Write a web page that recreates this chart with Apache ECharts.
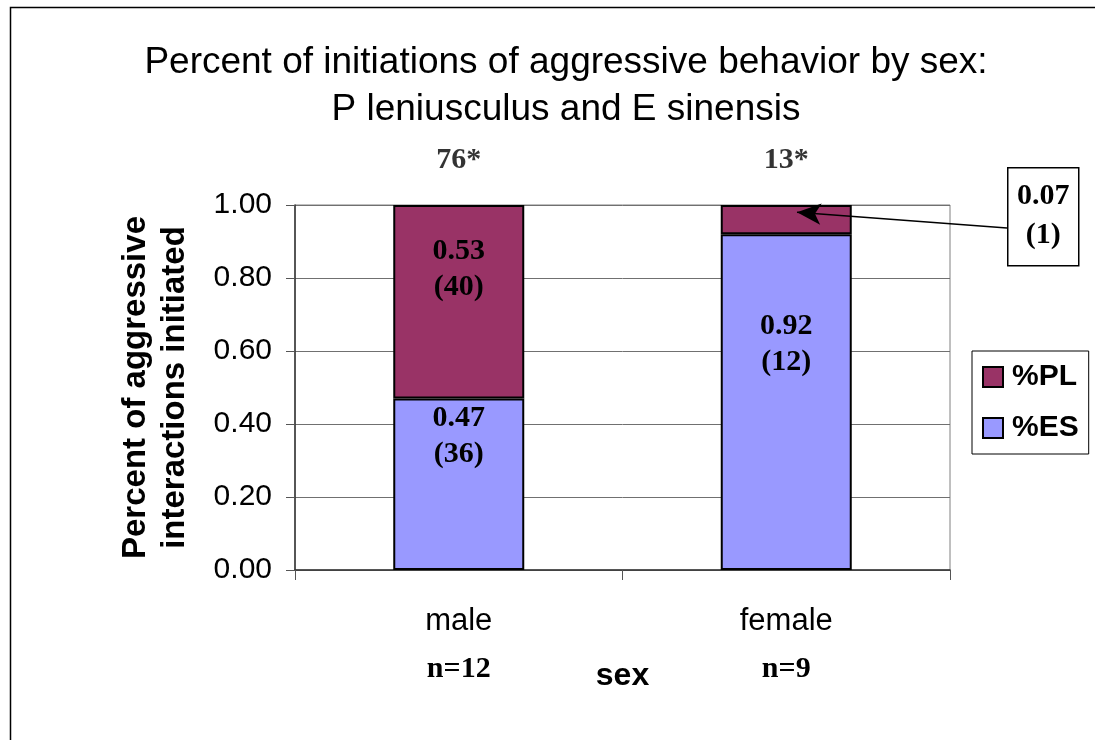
<!DOCTYPE html>
<html>
<head>
<meta charset="utf-8">
<script src="https://cdn.jsdelivr.net/npm/echarts@6/dist/echarts.min.js"></script>
<style>
  html, body { margin: 0; padding: 0; background: #fff; }
  #main { width: 1095px; height: 740px; }
</style>
</head>
<body>
<div id="main"></div>
<script>
// data
const categories = ["male", "female"];
const sampleSizes = ["n=12", "n=9"];
const esValues = [0.47, 0.92];
const plValues = [0.53, 0.08];
const esLabels = ["0.47\n(36)", "0.92\n(12)"];
const plLabels = ["0.53\n(40)", ""];
const totals = ["76*", "13*"];
const calloutText = "0.07\n(1)";

const sans = "Liberation Sans, Arial, sans-serif";
const serif = "Liberation Serif, Times New Roman, serif";

// per-bar label nudges (the original placed text boxes by hand)
const esOffsets = [[0, -48], [0, -58]];
const plOffsets = [[0, -32], [0, 0]];

let myChart = echarts.init(document.getElementById("main"), null, { renderer: "canvas" });

const labelStyle = {
  show: true,
  color: "#000",
  fontFamily: serif,
  fontWeight: "bold",
  fontSize: 30,
  lineHeight: 36,
};

let option = {
  animation: false,
  backgroundColor: "#fff",
  title: {
    text: "Percent of initiations of aggressive behavior by sex:\nP leniusculus and E sinensis",
    left: 561,
    textAlign: "center",
    top: 34,
    textStyle: {
      fontFamily: sans,
      fontWeight: "normal",
      fontSize: 37,
      lineHeight: 47,
      color: "#000",
    },
  },
  legend: {
    data: ["%PL", "%ES"],
    orient: "vertical",
    left: 972,
    top: 351,
    padding: [11, 10, 11, 10],
    itemGap: 21,
    itemWidth: 20,
    itemHeight: 20,
    borderColor: "#000",
    borderWidth: 1,
    icon: "rect",
    itemStyle: { borderColor: "#000", borderWidth: 2 },
    textStyle: { fontFamily: sans, fontWeight: "bold", fontSize: 30, color: "#000", padding: [0, 0, 0, 4] },
  },
  grid: {
    left: 295,
    right: 145,
    top: 205,
    bottom: 170,
    show: true,
    borderColor: "#808080",
    borderWidth: 1,
  },
  xAxis: {
    type: "category",
    data: categories,
    name: "sex",
    nameLocation: "middle",
    nameGap: 90,
    nameMoveOverlap: false,
    nameTextStyle: { fontFamily: sans, fontWeight: "bold", fontSize: 32, color: "#000" },
    axisLine: { lineStyle: { color: "#333", width: 1.5 } },
    axisTick: { show: true, length: 10, lineStyle: { color: "#555" } },
    axisLabel: {
      margin: 27,
      formatter: function (value, idx) {
        return "{a|" + value + "}\n{b|" + sampleSizes[idx] + "}";
      },
      rich: {
        a: { fontFamily: sans, fontSize: 31, color: "#000", lineHeight: 48 },
        b: { fontFamily: serif, fontWeight: "bold", fontSize: 30, color: "#000", lineHeight: 48 },
      },
    },
  },
  yAxis: {
    type: "value",
    min: 0,
    max: 1,
    interval: 0.2,
    name: "Percent of aggressive\ninteractions initiated",
    nameLocation: "middle",
    nameGap: 101,
    nameMoveOverlap: false,
    nameTextStyle: { fontFamily: sans, fontWeight: "bold", fontSize: 33, color: "#000", lineHeight: 39 },
    axisLine: { show: true, lineStyle: { color: "#333", width: 1.5 } },
    axisTick: { show: true, length: 9, inside: false, lineStyle: { color: "#555" } },
    splitLine: { show: true, lineStyle: { color: "#707070", width: 1 } },
    axisLabel: {
      margin: 23,
      fontFamily: sans,
      fontSize: 30,
      color: "#000",
      formatter: function (v) { return v.toFixed(2); },
    },
  },
  series: [
    {
      name: "%ES",
      type: "bar",
      stack: "total",
      barWidth: 131,
      itemStyle: { color: "#9999FF", borderColor: "#000", borderWidth: 2 },
      data: esValues.map(function (v, i) {
        return { value: v, label: Object.assign({}, labelStyle, { position: "inside", offset: esOffsets[i], formatter: esLabels[i] }) };
      }),
    },
    {
      name: "%PL",
      type: "bar",
      stack: "total",
      barWidth: 131,
      itemStyle: { color: "#993366", borderColor: "#000", borderWidth: 2 },
      data: plValues.map(function (v, i) {
        return { value: v, label: Object.assign({}, labelStyle, { position: "inside", offset: plOffsets[i], formatter: plLabels[i] }) };
      }),
      markLine: {
        silent: true,
        symbol: ["none", "arrow"],
        symbolSize: [16, 24],
        lineStyle: { color: "#000", width: 1.5, type: "solid" },
        label: { show: false },
        data: [[{ x: 1007, y: 228 }, { x: 797, yAxis: 0.98 }]],
      },
    },
    {
      name: "totals",
      type: "scatter",
      symbolSize: 0,
      data: [1, 1],
      label: {
        show: true,
        position: "top",
        distance: 30,
        color: "#000",
        fontFamily: serif,
        fontWeight: "bold",
        fontSize: 30,
        formatter: function (p) { return totals[p.dataIndex]; },
      },
    },
  ],
  graphic: [
    {
      type: "rect",
      left: 8,
      top: 5,
      shape: { width: 1100, height: 760 },
      style: { fill: "none", stroke: "#000", lineWidth: 1.5 },
      silent: true,
    },
    {
      type: "group",
      left: 1007,
      top: 167,
      children: [
        {
          type: "rect",
          shape: { width: 71, height: 98 },
          style: { fill: "#fff", stroke: "#000", lineWidth: 1.5 },
        },
        {
          type: "text",
          x: 35.5,
          y: 48,
          style: {
            text: calloutText,
            align: "center",
            verticalAlign: "middle",
            fontFamily: serif,
            fontWeight: "bold",
            fontSize: 30,
            lineHeight: 39,
            fill: "#000",
          },
        },
      ],
    },
  ],
};

option && myChart.setOption(option);
</script>
</body>
</html>
